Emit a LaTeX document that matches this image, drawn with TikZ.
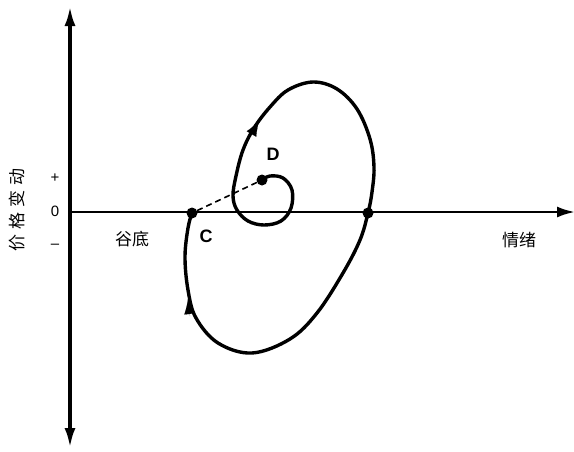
\documentclass[tikz,border=0pt]{standalone}
\usepackage{fontspec}
\setmainfont{Liberation Sans}
\newfontfamily\cjk{Noto Sans CJK SC}
\usetikzlibrary{arrows.meta}
\begin{document}
\begin{tikzpicture}[x=1pt,y=-1pt,
  axis/.style={line width=3.6pt,-{Latex[length=20pt,width=11pt]}},
  curve/.style={line width=3.4pt,line join=round},
  dot/.style={circle,fill=black,inner sep=0pt,minimum size=11pt},
  cjklbl/.style={font=\cjk\fontsize{17}{17}\selectfont,inner sep=0pt},
  ptlbl/.style={font=\bfseries\fontsize{18}{18}\selectfont,inner sep=0pt},
  signlbl/.style={font=\fontsize{15}{15}\selectfont,inner sep=0pt},
  tip/.style={line width=0.1pt,-{Latex[length=15pt,width=11pt]}}]
\useasboundingbox (0,0) rectangle (574,451);
% axes
\coordinate (O) at (70,212);
\coordinate (top) at (70,6);
\coordinate (bot) at (70,448);
\coordinate (right) at (575,212);
\draw[axis] (O) -- (top);
\draw[axis] (O) -- (bot);
\draw[line width=2.6pt,-{Latex[length=18pt,width=11pt]}] (O) -- (right);
% labels
\node[cjklbl,rotate=90] (ylab) at (17,210) {价\hspace{5pt}格\hspace{5pt}变\hspace{5pt}动};
\node[signlbl] (plus) at (55,178) {+};
\node[signlbl] (zero) at (55,211) {0};
\node[signlbl] (minus) at (55,246) {–};
\node[cjklbl] (gudi) at (132,239) {谷底};
\node[cjklbl] (qingxu) at (519,240) {情绪};
% points
\node[dot] (C) at (192,213) {};
\node[dot] (D) at (262,180) {};
\node[dot] (E) at (368,213) {};
\node[ptlbl] (Clab) at (206,236) {C};
\node[ptlbl] (Dlab) at (273,154) {D};
% dashed
\draw[line width=1.6pt,dash pattern=on 6pt off 4pt] (C) -- (D);
% curve
\draw[curve] plot[smooth,tension=0.6] coordinates {
 (262,180) (270,176) (283,178) (292,190) (291,208) (281,221) (264,225)
 (248,221) (237,210) (233,196) (236,176) (243,150) (254,128) (270,107)
 (288,90) (313,82) (337,89) (357,109) (370,139) (374,167) (372,192) (368,213)
 (360,240) (343,273) (317,313) (290,339) (252,353) (218,343) (196,318)
 (188,290) (185,257) (188,228) (192,213)};
% arrowheads
\coordinate (a1s) at (248,140);
\coordinate (a1e) at (259,121);
\draw[tip] (a1s) -- (a1e);
\coordinate (a2s) at (190,316);
\coordinate (a2e) at (188,299);
\draw[tip] (a2s) -- (a2e);
\end{tikzpicture}
\end{document}
